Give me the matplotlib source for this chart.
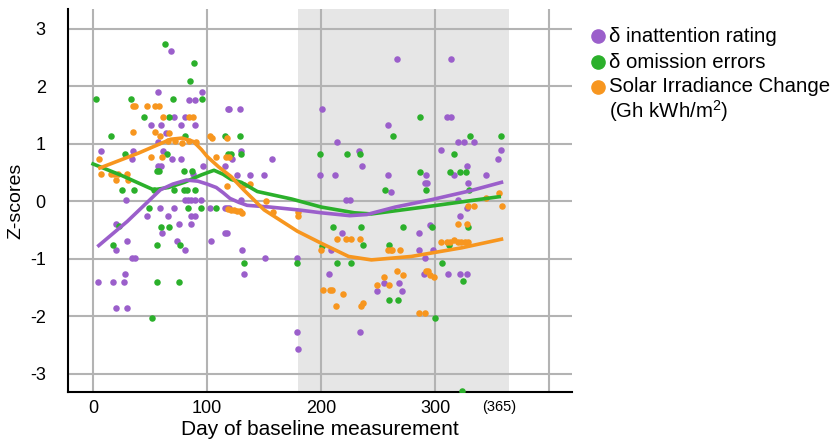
import numpy as np
import matplotlib
matplotlib.use("Agg")
import matplotlib.pyplot as plt
from matplotlib.lines import Line2D

plt.rcParams['font.family'] = ['Liberation Sans', 'DejaVu Sans']
plt.rcParams['axes.unicode_minus'] = False
plt.rcParams['mathtext.fontset'] = 'custom'
plt.rcParams['mathtext.rm'] = 'Liberation Sans'

# data
inatt_x = [68, 57, 84, 89.6, 95.4, 118.6, 70.8, 81, 50.5, 59.6, 77, 89.6, 64, 57, 6.8, 35, 61,
           33.8, 69, 77, 96.6, 116, 57, 59.6, 87.6, 29, 81, 83, 86, 89, 95, 58.4, 71, 102.5,
           116, 47, 66, 85.7, 89.6, 19.7, 75, 85.7, 60.5, 116, 30, 74, 103, 20, 81, 33.8, 36.7,
           28, 4.7, 17.4, 27, 20, 30, 119, 128.6, 201, 213.5, 129.8, 233, 122, 157, 236, 126,
           137.4, 150, 199, 212.5, 222, 225, 117, 119.5, 130, 117, 130.7, 132.5, 151, 178.5,
           218.5, 209, 206.8, 179, 179.4, 234, 266.4, 314, 310, 314, 258.7, 320, 325, 333.6,
           304.6, 358, 355, 258.7, 291.6, 316.3, 328, 344.5, 290.7, 293, 329, 261.4, 320, 328,
           322, 295.5, 285.7, 285.7, 298, 290.7, 290.4, 311, 321.8, 328, 254.6, 268, 248.7, 271]
inatt_y = [2.62, 1.90, 1.76, 1.76, 1.90, 1.61, 1.46, 1.46, 1.33, 1.33, 1.33, 1.33, 1.18, 1.04,
           0.88, 0.88, 0.88, 0.74, 0.74, 0.74, 0.61, 0.61, 0.61, 0.61, 0.48, 0.03, 0.03, 0.03,
           0.03, 0.03, 0.03, -0.12, -0.12, -0.12, -0.12, -0.26, -0.26, -0.26, -0.26, -0.40,
           -0.40, -0.40, -0.55, -0.55, -0.69, -0.69, -0.69, -0.84, -0.84, -0.98, -0.98, -1.27,
           -1.41, -1.41, -1.41, -1.85, -1.85, 1.61, 1.61, 1.61, 1.03, 0.88, 0.88, 0.74, 0.74,
           0.61, 0.46, 0.46, 0.46, 0.46, 0.46, 0.03, 0.03, -0.12, -0.12, 0.03, -0.55, -0.84,
           -1.27, -0.98, -0.98, -0.55, -0.84, -1.27, -2.28, -2.57, -2.28, 2.47, 2.47, 1.46, 1.46,
           1.32, 1.03, 1.03, 1.03, 0.89, 0.89, 0.74, 0.46, 0.46, 0.46, 0.61, 0.46, 0.32, 0.32,
           0.32, 0.17, 0.02, -0.12, -0.26, -0.41, -0.55, -0.84, -0.84, -0.98, -1.27, -1.27,
           -1.27, -1.27, -1.42, -1.42, -1.56, -1.56]

omis_x = [2.6, 63, 88.7, 85, 33, 70, 95.4, 45, 67, 15.6, 80.8, 115.4, 27.6, 65, 56, 58, 80, 87,
          25.5, 35.5, 53.6, 70.8, 80, 82.6, 89, 49, 82.8, 94.5, 107.8, 23, 59.3, 67, 17.4, 56,
          76, 56, 75.5, 52, 128.6, 199, 223, 234, 118, 121, 129.8, 132, 178.9, 210, 235, 237,
          201, 214, 226, 287, 262.5, 330.7, 357.4, 316, 287, 312.8, 322, 327, 255.5, 292, 329.6,
          297, 329, 272, 312, 259.6, 305.7, 324, 259.6, 267.5, 300, 323.6]
omis_y = [1.78, 2.73, 2.41, 2.10, 1.78, 1.78, 1.78, 1.46, 1.46, 1.14, 1.14, 1.14, 0.83, 0.83,
          0.52, 0.52, 0.52, 0.52, 0.19, 0.19, 0.19, 0.19, 0.19, 0.19, 0.19, -0.12, -0.12, -0.12,
          -0.12, -0.43, -0.44, -0.44, -0.76, -0.76, -0.76, -1.40, -1.40, -2.03, 1.14, 0.83,
          0.83, 0.83, 0.83, 0.83, 0.83, -1.08, -1.08, -0.44, -0.44, -0.76, -0.77, -1.08, -1.08,
          1.46, 1.14, 1.14, 1.14, 0.83, 0.51, 0.51, 0.51, 0.51, 0.19, 0.19, 0.19, -0.44, -0.44,
          -0.44, -0.76, -0.76, -1.08, -1.39, -1.71, -1.71, -2.03, -3.3]

solar_x = [35, 37, 47, 54, 58, 61, 84, 88, 35, 54.6, 58.4, 66.6, 102.8, 104, 117.8, 66, 72, 78,
           84, 90, 5.3, 50.8, 60, 108, 116.3, 119, 7, 15.6, 18, 21.6, 29.6, 19.7, 30.5, 118.6,
           117, 132.5, 137.7, 120.7, 123.6, 126.6, 129, 130.8, 151.8, 157.4, 179.4, 180, 214,
           222, 226, 233.7, 199.4, 201.5, 207.3, 209.7, 218.8, 213, 234.6, 236.4, 355.6, 344.5,
           329, 334, 358.6, 320, 328, 304.6, 310, 312.8, 316, 319.5, 322.6, 326, 328.8, 258.7,
           261, 262.3, 268.7, 266.7, 271.6, 254.9, 292, 293.4, 295.7, 298.7, 249, 259, 285.7, 291]
solar_y = [1.66, 1.66, 1.66, 1.66, 1.66, 1.46, 1.46, 1.46, 1.21, 1.21, 1.14, 1.18, 1.14, 1.10,
           1.10, 1.05, 1.05, 1.02, 1.05, 1.03, 0.74, 0.77, 0.77, 0.77, 0.77, 0.77, 0.48, 0.48,
           0.48, 0.48, 0.48, 0.37, 0.37, -0.14, 0.26, 0.29, 0.30, -0.15, -0.15, -0.17, -0.17,
           -0.20, 0.0, -0.18, -0.18, -0.25, -0.66, -0.66, -0.66, -0.66, -0.84, -1.54, -1.54,
           -1.54, -1.61, -1.83, -1.83, -1.77, 0.15, 0.05, -0.09, -0.09, -0.09, -0.40, -0.40,
           -0.70, -0.70, -0.70, -0.68, -0.70, -0.70, -0.70, -0.70, -0.84, -0.84, -0.84, -0.84,
           -1.21, -1.28, -1.32, -1.21, -1.21, -1.28, -1.32, -1.45, -1.45, -1.94, -1.94]

# smoothed trend lines (traced)
inatt_line_x = [5, 30, 59, 70, 82, 92, 100, 108, 114, 120, 128, 135, 155, 180, 200, 225, 240,
                265, 297, 330, 358]
inatt_line_y = [-0.77, -0.35, 0.2, 0.3, 0.37, 0.35, 0.3, 0.24, 0.15, 0.05, -0.02, -0.07, -0.1,
                -0.15, -0.2, -0.25, -0.23, -0.1, 0.03, 0.18, 0.33]
omis_line_x = [0, 25, 53, 66, 80, 95, 106, 114, 121, 130, 144, 174, 200, 229, 244, 294, 356]
omis_line_y = [0.65, 0.45, 0.2, 0.24, 0.33, 0.46, 0.54, 0.47, 0.38, 0.33, 0.17, 0.04, -0.1,
               -0.2, -0.22, -0.09, 0.08]
solar_line_x = [6, 40, 68, 78, 88, 95, 100, 110, 121, 132, 150, 179, 200, 224, 244, 279, 323, 358]
solar_line_y = [0.58, 0.84, 1.08, 1.1, 1.04, 0.9, 0.78, 0.6, 0.43, 0.2, -0.15, -0.52, -0.73,
                -0.96, -1.02, -0.96, -0.81, -0.66]

purple = '#9b5fcb'
green = '#2bb02b'
orange = '#f7961f'

fig = plt.figure(figsize=(8.39, 4.41), dpi=100)
ax = fig.add_axes([0.081, 0.111, 0.601, 0.869])

ax.axvspan(180, 365, color='#e6e6e6', zorder=0, lw=0)
ax.grid(True, color='#b3b3b3', linewidth=1.5, zorder=1)
ax.set_axisbelow(True)

ax.scatter(inatt_x, inatt_y, s=22, color=purple, zorder=3, lw=0)
ax.scatter(omis_x, omis_y, s=22, color=green, zorder=3, lw=0)
ax.scatter(solar_x, solar_y, s=22, color=orange, zorder=3, lw=0)

ax.plot(omis_line_x, omis_line_y, color=green, lw=2.6, zorder=4)
ax.plot(inatt_line_x, inatt_line_y, color=purple, lw=2.6, zorder=4)
ax.plot(solar_line_x, solar_line_y, color=orange, lw=2.6, zorder=4)

ax.set_xlim(-22, 420)
ax.set_ylim(-3.32, 3.35)
ax.set_xticks([0, 100, 200, 300, 400])
ax.set_xticklabels(['0', '100', '200', '300', ''])
ax.set_yticks([3, 2, 1, 0, -1, -2, -3])
ax.tick_params(axis='both', length=0, labelsize=13)
ax.tick_params(axis='y', pad=16)
ax.tick_params(axis='x', pad=6)
for s in ['top', 'right']:
    ax.spines[s].set_visible(False)
for s in ['left', 'bottom']:
    ax.spines[s].set_linewidth(1.5)

ax.text(356, -3.45, '(365)', fontsize=10.5, ha='center', va='top')
ax.set_xlabel('Day of baseline measurement', fontsize=15, labelpad=2)
ax.set_ylabel('Z-scores', fontsize=14, labelpad=4)

# legend drawn by hand so the marker sits on the first text line
labels = ['δ inattention rating', 'δ omission errors', 'Solar Irradiance Change']
colors = [purple, green, orange]
rows = [36, 62, 87]
for lab, c, r in zip(labels, colors, rows):
    yy = 1 - r / 441
    fig.add_artist(Line2D([598 / 839], [yy], marker='o', markersize=9.5, color=c, lw=0,
                          transform=fig.transFigure))
    fig.text(609 / 839, yy, lab, fontsize=14.7, va='center')
fig.text(609 / 839, 1 - 111 / 441, '(Gh kWh/m$^2$)', fontsize=14.7, va='center')

plt.savefig('out.png', dpi=100)
